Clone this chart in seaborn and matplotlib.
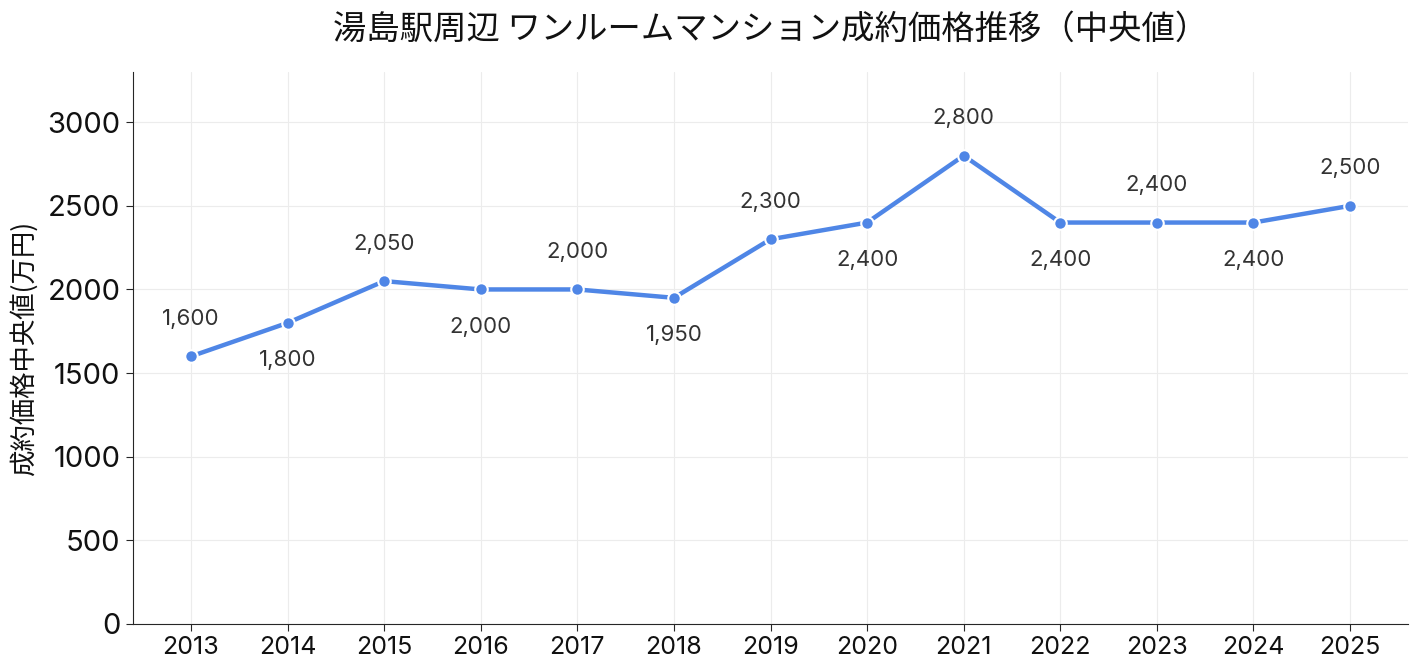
import matplotlib
matplotlib.use("Agg")
import matplotlib.pyplot as plt
import seaborn as sns
import pandas as pd

years = [2013, 2014, 2015, 2016, 2017, 2018, 2019, 2020, 2021, 2022, 2023, 2024, 2025]
prices = [1600, 1800, 2050, 2000, 2000, 1950, 2300, 2400, 2800, 2400, 2400, 2400, 2500]
title = "湯島駅周辺 ワンルームマンション成約価格推移（中央値）"
ylabel = "成約価格中央値(万円)"

sns.set_style("ticks")
plt.rcParams['font.family'] = ['Noto Sans CJK JP', 'DejaVu Sans']
num_font = ['Inter', 'Noto Sans CJK JP']

df = pd.DataFrame({"year": [str(y) for y in years], "price": prices})

fig = plt.figure(figsize=(14.18, 6.71), dpi=100)
ax = fig.add_axes([133/1418, 1 - 624/671, (1408-133)/1418, (624-72)/671])

color = "#4F86E6"
sns.lineplot(data=df, x="year", y="price", ax=ax, color=color, linewidth=3.2,
             marker="o", markersize=9, markeredgecolor="white", markeredgewidth=1.5,
             sort=False)

for i, (y, v) in enumerate(zip(years, prices)):
    off = 27 if i % 2 == 0 else -27
    ax.annotate(f"{v:,}", (i, v), xytext=(0, off), textcoords="offset points",
                ha="center", va="center", fontsize=16, color="#333333",
                family=num_font)

ax.set_xlim(-0.6, len(years) - 0.4)
ax.set_ylim(0, 3300)
ax.set_yticks([0, 500, 1000, 1500, 2000, 2500, 3000])
ax.grid(True, color="#ececec", linewidth=0.8)
ax.set_axisbelow(True)
sns.despine(ax=ax)
ax.tick_params(axis="y", labelsize=21, length=5, pad=4, labelcolor="#111111")
ax.tick_params(axis="x", labelsize=18, length=5, pad=4, labelcolor="#111111")
for lab in ax.get_xticklabels() + ax.get_yticklabels():
    lab.set_family(num_font)
ax.set_xlabel("")
ax.set_ylabel(ylabel, fontsize=19, labelpad=7, color="#111111")
ax.set_title(title, fontsize=24, pad=24, color="#111111")

fig.savefig("out.png", dpi=100)
